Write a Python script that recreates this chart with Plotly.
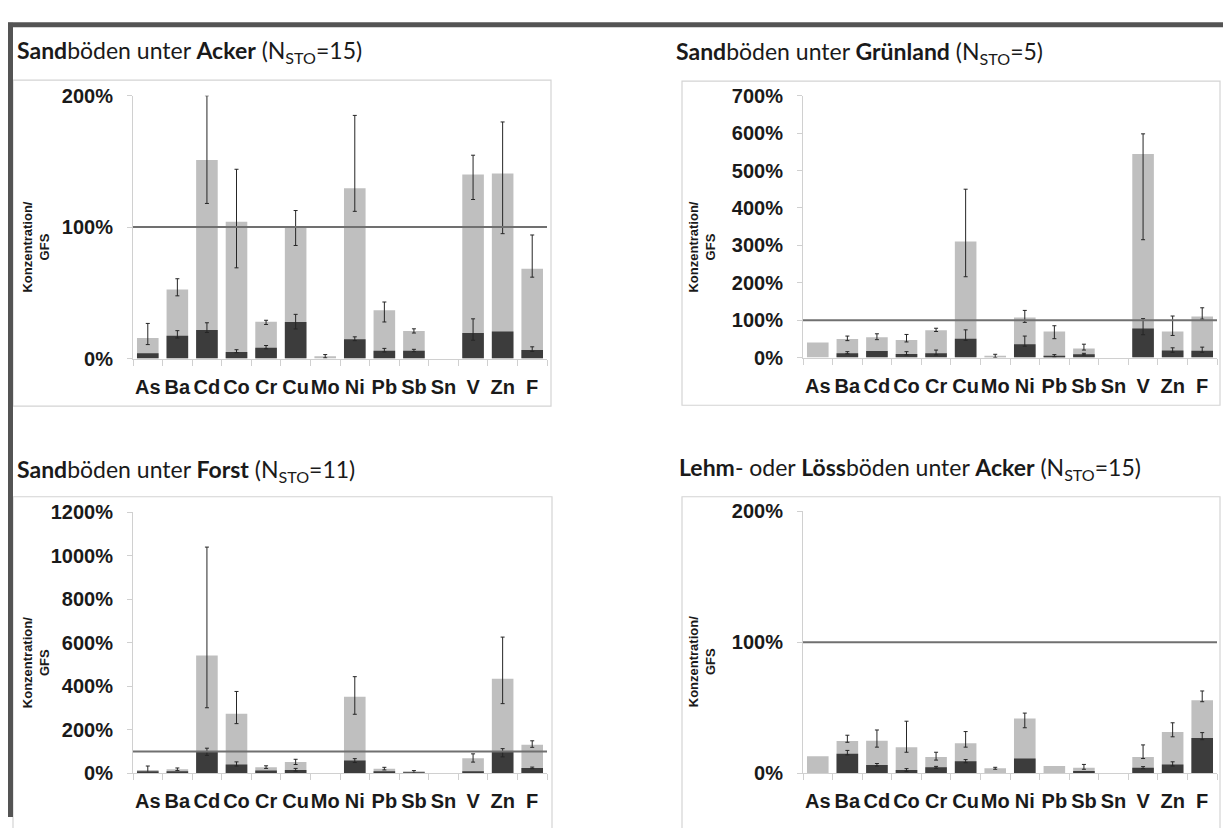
import numpy as np
import plotly.graph_objects as go

W, H = 1223, 828

elements = ["As", "Ba", "Cd", "Co", "Cr", "Cu", "Mo", "Ni", "Pb", "Sb", "Sn", "V", "Zn", "F"]

# Panel 1: Sandböden unter Acker
p1_light = [15.6, 52.6, 151, 104, 27.9, 99.5, 1.7, 129.5, 36.7, 21, 0, 140, 140.7, 68.3]
p1_light_hi = [26.7, 60.7, 200, 144, 29.1, 112.6, 3.0, 185, 43, 22.6, None, 154.7, 180, 94]
p1_light_lo = [10.6, 47.7, 118, 69, 25.9, 86, 0.5, 112, 27.8, 19.4, None, 121, 95, 61.9]
p1_dark = [4.0, 17.3, 21.7, 4.9, 8.1, 27.7, 0, 14.6, 6.0, 6.0, 0, 19.4, 20.6, 6.4]
p1_dark_hi = [None, 21.2, 27.2, 6.7, 9.9, 33.6, None, 16.5, 7.7, 7.0, None, 30.2, None, 8.9]
p1_dark_lo = [None, 15.6, 19.8, 4.4, 7.4, 22.5, None, 13.6, 5.0, 5.2, None, 13.9, None, 5.4]

# Panel 2: Sandböden unter Grünland
p2_light = [40, 49.6, 54, 47, 73, 310, 2.6, 107, 69.6, 24.3, 0, 544, 69.6, 109.6]
p2_light_hi = [None, 57.4, 63.5, 61.7, 78.3, 450, 8.7, 126, 85, 35.7, None, 598, 111, 133]
p2_light_lo = [None, 45.2, 47.8, 41.7, 69.6, 216, 0, 94, 50.4, 20, None, 315, 59, 102.6]
p2_dark = [0, 11.3, 17.4, 9.6, 11.3, 50.4, 0, 35.7, 4.3, 8.7, 0, 77.4, 19, 18.3]
p2_dark_hi = [None, 15.7, None, 15.7, 20, 74, None, 57.4, 7.8, 11.3, None, 104, 26, 27.8]
p2_dark_lo = [None, 10, None, 7, 7, 46, None, 30.4, 2, 7, None, 61, 14, 14]

# Panel 3: Sandböden unter Forst
p3_light = [15, 18, 541, 273, 27, 52, 0, 352, 21, 6, 0, 69, 435, 131]
p3_light_hi = [33, 24, 1040, 376, 34, 64, None, 444, 27, 12, None, 89, 626, 149]
p3_light_lo = [0, 12, 301, 228, 22, 40, None, 271, 15, 0, None, 51, 320, 119]
p3_dark = [5, 9, 100, 40, 12, 15, 0, 58, 6, 2, 0, 6, 100, 24]
p3_dark_hi = [None, None, 115, 52, None, 22, None, 67, None, None, None, None, 113, 28]
p3_dark_lo = [None, None, 82, 33, None, 10, None, 49, None, None, None, None, 75, 21]

# Panel 4: Lehm- oder Lössböden unter Acker
p4_light = [13, 24.6, 24.8, 19.9, 12.4, 22.8, 3.7, 41.7, 5.5, 4.2, 0, 12.4, 31.5, 55.8]
p4_light_hi = [None, 29, 33, 39.7, 16, 31.8, 4.5, 45.9, None, 6.7, None, 21.6, 38.5, 62.8]
p4_light_lo = [None, 23.6, 19.9, 16, 10, 19.9, 3, 34.7, None, 3, None, 11.2, 27.8, 54.6]
p4_dark = [0, 14.9, 6.2, 2.5, 4.5, 9.2, 0, 11.2, 0, 1.7, 0, 4.2, 6.7, 26.8]
p4_dark_hi = [None, 17.4, 7.4, 3.5, 5.2, 10.4, None, None, None, None, None, 5, 8.7, 31]
p4_dark_lo = [None, 14, 5.5, 1.5, 3.7, 8, None, None, None, None, None, 3.5, 5.5, 25.6]

titles = [
    "<b>Sand</b>böden unter <b>Acker</b> (N<sub>STO</sub>=15)",
    "<b>Sand</b>böden unter <b>Grünland</b> (N<sub>STO</sub>=5)",
    "<b>Sand</b>böden unter <b>Forst</b> (N<sub>STO</sub>=11)",
    "<b>Lehm</b>- oder <b>Löss</b>böden unter <b>Acker</b> (N<sub>STO</sub>=15)",
]
y_max = [200, 700, 1200, 200]
y_dtick = [100, 100, 200, 100]
reference_line = 100

panels = [
    (p1_light, p1_light_hi, p1_light_lo, p1_dark, p1_dark_hi, p1_dark_lo),
    (p2_light, p2_light_hi, p2_light_lo, p2_dark, p2_dark_hi, p2_dark_lo),
    (p3_light, p3_light_hi, p3_light_lo, p3_dark, p3_dark_hi, p3_dark_lo),
    (p4_light, p4_light_hi, p4_light_lo, p4_dark, p4_dark_hi, p4_dark_lo),
]

# layout geometry in pixels
plot_px = [(133, 547, 87, 357), (803, 1217, 87, 356), (133, 547, 515, 783), (803, 1217, 514, 783)]
box_px = [(13, 551, 71, 406), (682, 1220, 72, 405), (13, 552, 499, 860), (682, 1220, 499, 860)]
title_px = [(15, 42), (674, 43), (15, 472), (677, 470)]
ytitle_px = [(36, 243), (702, 243), (36, 670), (702, 669)]

def fx(p):
    return p / W

def fy(p):
    return 1 - p / H

def errs(vals, hi, lo):
    v = np.array(vals, dtype=float)
    h = np.array(hi, dtype=float)
    l = np.array(lo, dtype=float)
    return h - v, v - l

LIGHT = "#bfbfbf"
DARK = "#3c3c3c"
ERR = "#262626"

fig = go.Figure()
layout = dict(
    width=W, height=H, margin=dict(l=0, r=0, t=0, b=0),
    paper_bgcolor="white", plot_bgcolor="white",
    showlegend=False, barmode="overlay", bargap=0.27,
)
shapes = []
annotations = []

tick_font = dict(family="Liberation Sans", size=20, color="#1a1a1a", weight="bold")

for i, (lv, lh, ll, dv, dh, dl) in enumerate(panels):
    n = "" if i == 0 else str(i + 1)
    xa, ya = "x" + n, "y" + n
    up, dn = errs(lv, lh, ll)
    fig.add_trace(go.Bar(
        x=elements, y=lv, xaxis=xa, yaxis=ya, marker=dict(color=LIGHT, line=dict(width=0)),
        error_y=dict(type="data", symmetric=False, array=up, arrayminus=dn,
                     color=ERR, thickness=1, width=2),
    ))
    up, dn = errs(dv, dh, dl)
    fig.add_trace(go.Bar(
        x=elements, y=dv, xaxis=xa, yaxis=ya, marker=dict(color=DARK, line=dict(width=0)),
        error_y=dict(type="data", symmetric=False, array=up, arrayminus=dn,
                     color=ERR, thickness=1, width=2),
    ))
    x0, x1, y0, y1 = plot_px[i]
    layout["xaxis" + n] = dict(
        domain=[fx(x0), fx(x1)], anchor=ya, type="category", tickangle=0,
        showline=True, linecolor="#d0d0d0", linewidth=1,
        ticks="outside", tickson="boundaries", ticklen=6, tickcolor="#d0d0d0",
        tickfont=tick_font, ticklabelstandoff=10,
        showgrid=False, zeroline=False, fixedrange=True,
    )
    layout["yaxis" + n] = dict(
        domain=[fy(y1), fy(y0)], anchor=xa, range=[0, y_max[i]], dtick=y_dtick[i],
        ticksuffix="%", showline=True, linecolor="#d0d0d0", linewidth=1,
        ticks="outside", ticklen=5, tickcolor="#d0d0d0",
        tickfont=tick_font, ticklabelstandoff=10,
        showgrid=False, zeroline=False, fixedrange=True,
    )
    shapes.append(dict(type="line", xref=xa + " domain", yref=ya, x0=0, x1=1,
                       y0=reference_line, y1=reference_line,
                       line=dict(color="#707070", width=2), layer="above"))
    bx0, bx1, by0, by1 = box_px[i]
    shapes.append(dict(type="rect", xref="paper", yref="paper", x0=fx(bx0), x1=fx(bx1),
                       y0=fy(by1), y1=fy(by0), line=dict(color="#d4d4d4", width=1.2),
                       layer="below"))
    tx, ty = title_px[i]
    annotations.append(dict(text=titles[i], xref="paper", yref="paper", x=fx(tx), y=fy(ty),
                            xanchor="left", yanchor="middle", showarrow=False,
                            font=dict(family="Lato", size=23, color="#1a1a1a")))
    ax_, ay_ = ytitle_px[i]
    annotations.append(dict(text="<b>Konzentration/</b><br><b>GFS</b>", xref="paper", yref="paper",
                            x=fx(ax_), y=fy(ay_), xanchor="center", yanchor="middle",
                            textangle=-90, showarrow=False,
                            font=dict(family="Liberation Sans", size=13, color="#1a1a1a")))

# frame of the slide (dark top and left border)
shapes.append(dict(type="line", xref="paper", yref="paper", x0=fx(8), x1=1.0, y0=fy(14), y1=fy(14),
                   line=dict(color="#545454", width=5)))
shapes.append(dict(type="line", xref="paper", yref="paper", x0=fx(10.5), x1=fx(10.5), y0=fy(12), y1=0,
                   line=dict(color="#545454", width=5)))

layout["shapes"] = shapes
layout["annotations"] = annotations
fig.update_layout(**layout)

pin_js = (
    "document.documentElement.style.margin='0';"
    "document.body.style.margin='0';"
    "document.body.style.overflow='hidden';"
    "var gd=document.getElementById('{plot_id}');"
    "gd.style.position='absolute';gd.style.left='0px';gd.style.top='0px';"
)
fig.write_html("out.html", post_script=pin_js, config={"displayModeBar": False})
